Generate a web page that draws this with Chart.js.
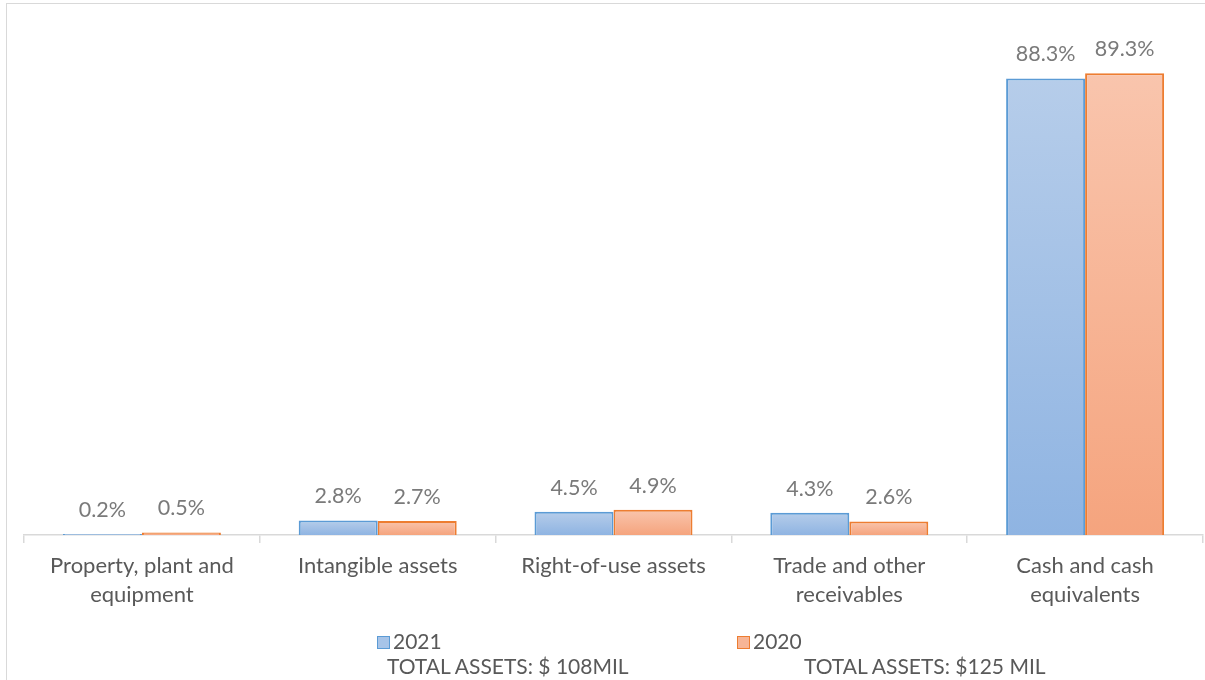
<!DOCTYPE html>
<html>
<head>
<meta charset="utf-8">
<script src="https://cdn.jsdelivr.net/npm/chart.js@4/dist/chart.umd.min.js"></script>
<style>
  html, body { margin: 0; padding: 0; background: #fff; overflow: hidden; }
  #wrap { position: relative; width: 1205px; height: 680px; }
  #frame { position: absolute; left: 6px; top: 3px; width: 1300px; height: 800px; border: 1px solid #d9d9d9; }
  canvas { position: absolute; left: 0; top: 0; }
  .leg { position: absolute; font-family: Lato, "Open Sans", sans-serif; font-size: 21px; line-height: 24px; color: #595959; white-space: nowrap; }
  .box { display: inline-block; width: 11px; height: 11px; vertical-align: 0px; margin-right: 3px; }
</style>
</head>
<body>
<div id="wrap">
  <div id="frame"></div>
  <canvas id="chart" width="1205" height="680"></canvas>
  <div class="leg" style="left:377px; top:629px;"><span class="box" style="background:#a7c4e8;border:1.5px solid #5b9bd5;"></span>2021</div>
  <div class="leg" style="left:387px; top:654px;">TOTAL ASSETS: $ 108MIL</div>
  <div class="leg" style="left:737px; top:629px;"><span class="box" style="background:#f7b596;border:1.5px solid #ed7d31;"></span>2020</div>
  <div class="leg" style="left:804px; top:654px;">TOTAL ASSETS: $125 MIL</div>
</div>
<script>
var categories = [
    ['Property, plant and', 'equipment'],
    'Intangible assets',
    'Right-of-use assets',
    ['Trade and other', 'receivables'],
    ['Cash and cash', 'equivalents']
];
var values2021 = [0.2, 2.8, 4.5, 4.3, 88.3];
var values2020 = [0.5, 2.7, 4.9, 2.6, 89.3];

function barGradient(top, bottom) {
    return function(ctx) {
        var chart = ctx.chart;
        if (!chart.chartArea || ctx.type !== 'data') return bottom;
        var y = chart.scales.y;
        var y0 = y.getPixelForValue(ctx.raw);
        var y1 = y.getPixelForValue(0);
        if (y1 - y0 < 1) return bottom;
        var g = chart.ctx.createLinearGradient(0, y0, 0, y1);
        g.addColorStop(0, top);
        g.addColorStop(1, bottom);
        return g;
    };
}

var valueLabels = {
    id: 'valueLabels',
    afterDatasetsDraw: function(chart) {
        var c = chart.ctx;
        c.save();
        c.font = '21.5px Lato, "Open Sans", sans-serif';
        c.fillStyle = '#7a7a7a';
        c.textAlign = 'center';
        c.textBaseline = 'middle';
        chart.data.datasets.forEach(function(ds, i) {
            chart.getDatasetMeta(i).data.forEach(function(bar, j) {
                c.fillText(ds.data[j].toFixed(1) + '%', bar.x, bar.y - 24);
            });
        });
        c.restore();
    }
};

new Chart(document.getElementById('chart'), {
    type: 'bar',
    data: {
        labels: categories,
        datasets: [
            {
                label: '2021',
                data: values2021,
                backgroundColor: barGradient('#b6cdea', '#8fb4e2'),
                borderColor: '#5b9bd5',
                borderWidth: 2,
                borderSkipped: 'bottom'
            },
            {
                label: '2020',
                data: values2020,
                backgroundColor: barGradient('#f9c5ad', '#f5a47e'),
                borderColor: '#ed7d31',
                borderWidth: 2,
                borderSkipped: 'bottom'
            }
        ]
    },
    options: {
        responsive: false,
        animation: false,
        layout: { padding: { top: 18, left: 24, right: 2, bottom: 0 } },
        plugins: {
            legend: { display: false },
            tooltip: { enabled: false }
        },
        datasets: {
            bar: { categoryPercentage: 0.67, barPercentage: 1.0 }
        },
        scales: {
            x: {
                grid: {
                    offset: true,
                    drawOnChartArea: false,
                    tickLength: 8,
                    color: '#d9d9d9',
                    lineWidth: 1.5
                },
                border: { color: '#d9d9d9', width: 1.5 },
                ticks: {
                    color: '#595959',
                    font: { family: 'Lato, "Open Sans", sans-serif', size: 22, lineHeight: 1.32 },
                    padding: 8,
                    maxRotation: 0
                },
                afterFit: function(scale) { scale.height = 145; }
            },
            y: {
                display: false,
                min: 0,
                max: 100
            }
        }
    },
    plugins: [valueLabels]
});
</script>
</body>
</html>
